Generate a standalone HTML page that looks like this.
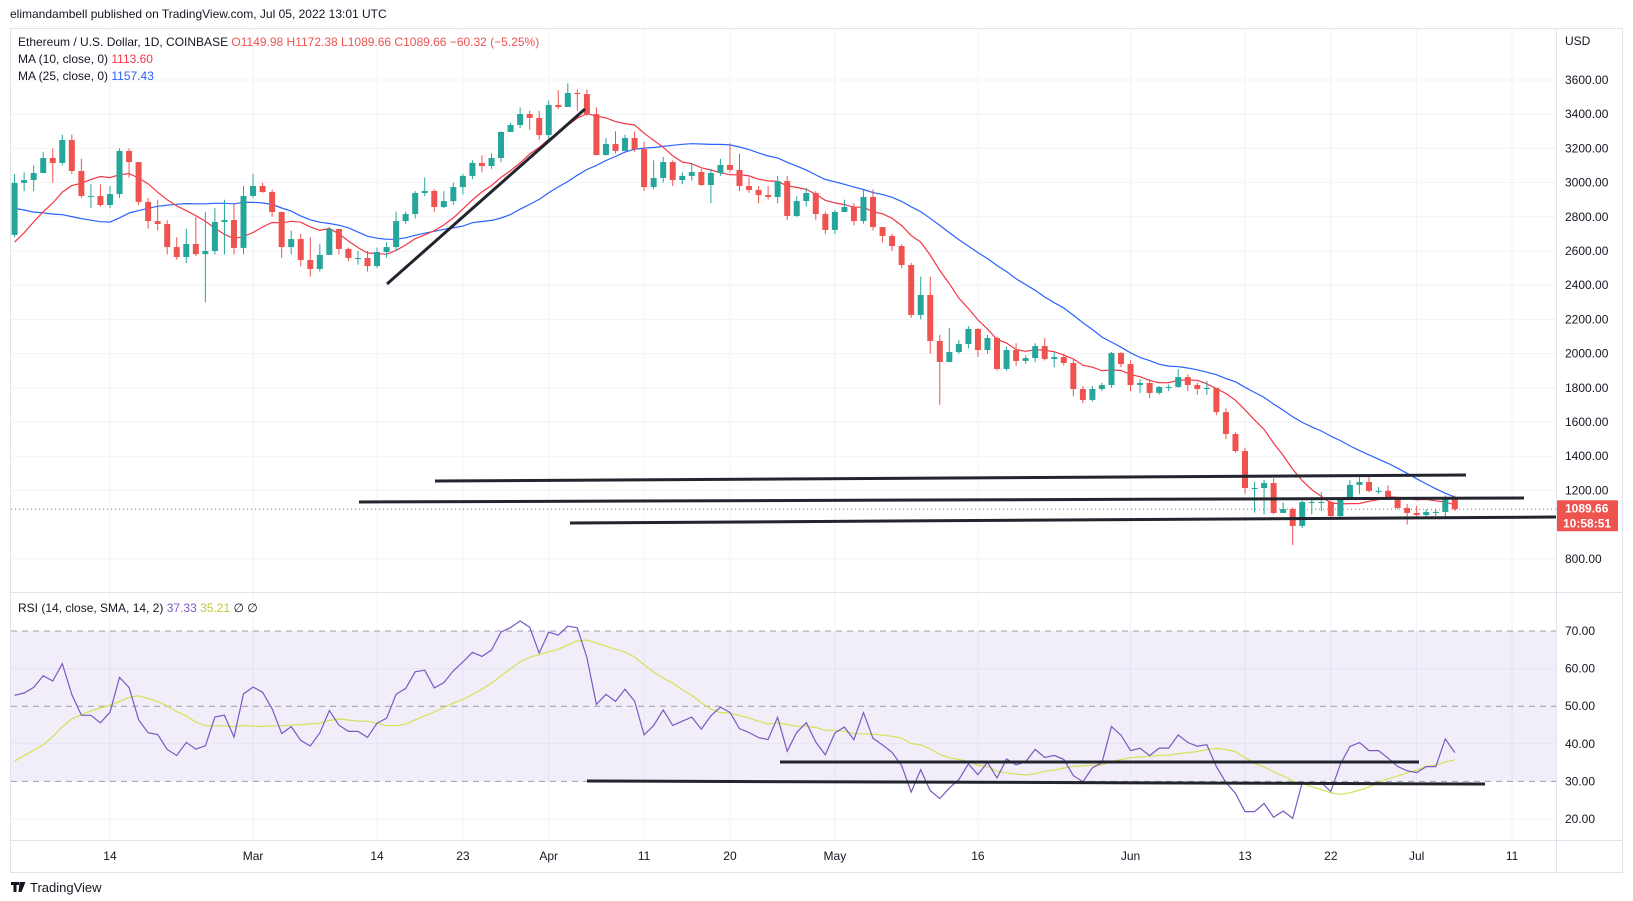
<!DOCTYPE html>
<html><head><meta charset="utf-8">
<style>
body{margin:0;background:#fff;font-family:"Liberation Sans",sans-serif;}
svg{display:block}
text{font-family:"Liberation Sans",sans-serif;}
</style></head>
<body>
<svg id="c" width="1633" height="901" viewBox="0 0 1633 901">
<rect x="0" y="0" width="1633" height="901" fill="#fff"/>
<text x="10" y="18" font-size="12" fill="#131722">elimandambell published on TradingView.com, Jul 05, 2022 13:01 UTC</text>
<rect x="10.5" y="28.5" width="1612" height="844" fill="none" stroke="#e0e3eb"/>
<g id="grid"></g>
<rect x="11" y="631" width="1545" height="150.4" fill="#7e57c2" fill-opacity="0.1"/>
<g id="rsiLevels"></g>
<line x1="10" y1="592.5" x2="1623" y2="592.5" stroke="#e0e3eb"/>
<line x1="10" y1="840.5" x2="1623" y2="840.5" stroke="#e0e3eb"/>
<line x1="1556.5" y1="28" x2="1556.5" y2="872" stroke="#e0e3eb"/>
<g id="ma"></g>
<g id="candles"></g>
<g id="rsi"></g>
<g id="drawings"></g>
<g id="axes"></g>
<text x="18" y="46" font-size="12" fill="#131722">Ethereum / U.S. Dollar, 1D, COINBASE <tspan fill="#ef5350">O1149.98  H1172.38  L1089.66  C1089.66  −60.32 (−5.25%)</tspan></text>
<text x="18" y="63" font-size="12" fill="#131722">MA (10, close, 0) <tspan fill="#f23645">1113.60</tspan></text>
<text x="18" y="80" font-size="12" fill="#131722">MA (25, close, 0) <tspan fill="#2962ff">1157.43</tspan></text>
<text x="18" y="612" font-size="12" fill="#131722">RSI (14, close, SMA, 14, 2) <tspan fill="#7e57c2">37.33</tspan> <tspan fill="#c0ca33">35.21</tspan> ∅ ∅</text>
<text x="1565" y="45" font-size="12" fill="#131722">USD</text>
<g>
<path d="M11 882h8v3h-2.5v7h-3v-7H11z M19.5 882h6l-4 10h-3z" fill="#131722"/>
<text x="30" y="892" font-size="13" fill="#131722">TradingView</text>
</g>
</svg>
<script>
const prior=[3240,3370,3245,3310,3330,3350,3210,3160,3090,2990,2560,2410,2540,2440,2460,2470,2420,2550,2600,2610,2690,2790,2690,2700];
const closes=[2998,3015,3056,3144,3115,3249,3068,2922,2922,2869,2933,3185,3120,2887,2775,2758,2623,2565,2641,2582,2600,2770,2781,2618,2922,2980,2945,2828,2623,2670,2547,2495,2577,2729,2612,2559,2559,2512,2594,2623,2775,2816,2939,2951,2857,2892,2974,3039,3115,3097,3144,3296,3337,3401,3378,3278,3454,3442,3524,3518,3401,3161,3226,3185,3261,3196,2974,3027,3120,3015,3039,3062,2986,3056,3103,3074,2980,2957,2927,2916,3009,2805,2892,2939,2816,2723,2828,2857,2775,2916,2740,2688,2629,2518,2226,2343,2074,1951,2009,2056,2144,2021,2091,1910,2021,1957,1974,2044,1969,1980,1945,1793,1729,1793,1816,2003,1939,1816,1828,1770,1805,1805,1863,1816,1793,1799,1658,1530,1430,1214,1214,1243,1068,1091,992,1132,1132,1132,1050,1156,1232,1249,1197,1197,1150,1097,1068,1056,1074,1074,1156,1090];
const highs=[3050,3060,3100,3180,3200,3280,3280,3140,2990,2990,2980,3200,3200,3120,2910,2900,2780,2680,2730,2800,2830,2850,2900,2880,2980,3050,3000,2960,2830,2720,2700,2680,2640,2740,2720,2620,2600,2600,2620,2650,2830,2830,2950,3030,2960,2950,3000,3050,3130,3160,3170,3300,3350,3440,3420,3420,3480,3540,3580,3545,3545,3440,3260,3300,3280,3300,3240,3130,3150,3130,3060,3110,3080,3080,3140,3230,3170,3030,2980,2980,3040,3040,2920,2970,2950,2830,2840,2900,2880,2960,2960,2740,2700,2640,2530,2450,2450,2110,2150,2080,2160,2150,2110,2100,2040,2060,1990,2060,2090,2010,2000,1970,1810,1810,1830,2010,2010,1960,1850,1850,1810,1820,1910,1880,1830,1840,1800,1680,1540,1450,1250,1260,1270,1130,1100,1140,1160,1190,1140,1160,1260,1280,1280,1220,1230,1160,1120,1110,1090,1090,1170,1170];
const lows=[2680,2950,2950,3090,3000,3100,3050,2910,2850,2860,2850,2910,3030,2870,2730,2720,2580,2550,2530,2570,2300,2580,2580,2580,2580,2910,2940,2800,2560,2580,2510,2450,2480,2600,2580,2540,2520,2480,2500,2560,2600,2760,2790,2920,2830,2850,2870,2930,3020,3060,3080,3120,3310,3320,3310,3250,3240,3430,3470,3420,3390,3160,3160,3170,3190,3180,2950,2960,3000,2980,2990,3010,2980,2880,3040,3060,2950,2940,2880,2900,2880,2780,2800,2860,2780,2700,2700,2830,2750,2760,2720,2650,2600,2500,2210,2200,2000,1700,1950,2000,2030,1980,2000,1900,1900,1930,1940,1950,1960,1920,1930,1750,1710,1720,1780,1800,1920,1780,1770,1740,1760,1780,1800,1780,1760,1760,1640,1500,1420,1180,1070,1060,1060,1070,880,980,1060,1080,1040,1040,1150,1180,1190,1180,1150,1090,1000,1040,1040,1050,1040,1080];
const firstOpen=2694;
const priceTicks=[3600,3400,3200,3000,2800,2600,2400,2200,2000,1800,1600,1400,1200,800];
const rsiTicks=[70,60,50,40,30,20];
const dateTickIdx=[10,25,38,47,56,66,75,86,101,117,129,138,147,157];
const dateTickLabels=["14","Mar","14","23","Apr","11","20","May","16","Jun","13","22","Jul","11"];
const lastPrice=1089.66;

const NS="http://www.w3.org/2000/svg";
const X=i=>14.6+9.538*i;
const Y=p=>80+(3600-p)*0.171;
const RY=r=>631+(70-r)*3.76;
function mk(tag,attrs,parent){const e=document.createElementNS(NS,tag);for(const k in attrs)e.setAttribute(k,attrs[k]);parent.appendChild(e);return e;}
const G=id=>document.getElementById(id);

const grid=G('grid');
dateTickIdx.forEach((d,k)=>{
  const l=mk('line',{x1:X(d),y1:29,x2:X(d),y2:840,stroke:'#f0f3fa'},grid);
  
  
});
priceTicks.forEach(p=>{
  const l=mk('line',{x1:11,y1:Y(p),x2:1556,y2:Y(p),stroke:'#f0f3fa'},grid);
  
  
});
[60,40,20].forEach(r=>{
  const l=mk('line',{x1:11,y1:RY(r),x2:1556,y2:RY(r),stroke:'#f0f3fa'},grid);
  
  
});
const rl=G('rsiLevels');
[70,50,30].forEach(r=>{
  const l=mk('line',{x1:11,y1:RY(r),x2:1556,y2:RY(r),stroke:'#787b86','stroke-dasharray':'6 5','stroke-opacity':0.7},rl);
  
  
});

const ax=G('axes');
priceTicks.forEach(p=>{
  const t=mk('text',{x:1565,y:Y(p)+4,'font-size':12,fill:'#131722'},ax);
  t.textContent=p.toFixed(2);
  
  
});
rsiTicks.forEach(r=>{
  const t=mk('text',{x:1565,y:RY(r)+4,'font-size':12,fill:'#131722'},ax);
  t.textContent=r.toFixed(2);
  
  
});
dateTickIdx.forEach((d,k)=>{
  const t=mk('text',{x:X(d),y:860,'font-size':12,fill:'#131722','text-anchor':'middle'},ax);
  t.textContent=dateTickLabels[k];
  
  
});
const lp=mk('line',{x1:11,y1:Y(lastPrice),x2:1556,y2:Y(lastPrice),stroke:'#ef5350','stroke-dasharray':'1 3'},ax);


const lb=mk('rect',{x:1557,y:Y(lastPrice)-9,width:61,height:31,fill:'#ef5350',rx:1},ax);


const t1=mk('text',{x:1565,y:Y(lastPrice)+3,'font-size':12,'font-weight':'bold',fill:'#fff'},ax);
t1.textContent=lastPrice.toFixed(2);


const t2=mk('text',{x:1563,y:Y(lastPrice)+18,'font-size':12,'font-weight':'bold',fill:'#fff'},ax);
t2.textContent='10:58:51';



const cg=G('candles');
closes.forEach((c,i)=>{
  const o=i===0?firstOpen:closes[i-1];
  const up=c>=o;const col=up?'#26a69a':'#ef5350';
  const x=X(i);
  const w=mk('line',{x1:x,y1:Y(highs[i]),x2:x,y2:Y(lows[i]),stroke:col,'stroke-width':1},cg);
  
  
  const top=Y(Math.max(o,c)),bot=Y(Math.min(o,c));
  const b=mk('rect',{x:x-3,y:top,width:6,height:Math.max(1,bot-top),fill:col},cg);
  
  
});

const all=prior.concat(closes);const off=prior.length;
function sma(n){const out=[];for(let i=0;i<closes.length;i++){const j=i+off;if(j-n+1<0){out.push(null);continue;}let s=0;for(let k=j-n+1;k<=j;k++)s+=all[k];out.push(s/n);}return out;}
function path(vals,fy){let d='';vals.forEach((v,i)=>{if(v==null)return;d+=(d?'L':'M')+X(i).toFixed(1)+' '+fy(v).toFixed(1);});return d;}
const mg=G('ma');
const m25=mk('path',{d:path(sma(25),Y),fill:'none',stroke:'#2962ff','stroke-width':1.2},mg);


const m10=mk('path',{d:path(sma(10),Y),fill:'none',stroke:'#f23645','stroke-width':1.2},mg);



let ag=0,al=0;const rsiAll=[];
for(let j=1;j<all.length;j++){const ch=all[j]-all[j-1];const g=Math.max(ch,0),l=Math.max(-ch,0);
  if(j<=14){ag+=g/14;al+=l/14;if(j===14)rsiAll[j]=100-100/(1+ag/al);}
  else{ag=(ag*13+g)/14;al=(al*13+l)/14;rsiAll[j]=100-100/(1+ag/(al||1e-9));}}
const rsiVals=closes.map((c,i)=>rsiAll[i+off]);
const rsiSma=rsiVals.map((v,i)=>{const j=i+off;let s=0,n=0;for(let k=j-13;k<=j;k++){if(rsiAll[k]!=null){s+=rsiAll[k];n++;}}return n?s/n:null;});
const rg=G('rsi');
const rs=mk('path',{d:path(rsiSma,RY),fill:'none',stroke:'#d4e157','stroke-width':1.2},rg);


const rp=mk('path',{d:path(rsiVals,RY),fill:'none',stroke:'#7e57c2','stroke-width':1.2},rg);



const dg=G('drawings');
const lines=[[387,284,585,109,'trendline'],[435,481,1466,475,'resistance-line'],[359,502,1524,498,'mid-support-line'],[570,523,1556,517,'support-line'],[780,762,1419,762,'rsi-upper-line'],[587,781,1485,784,'rsi-lower-line']];
lines.forEach(l=>{
  const e=mk('line',{x1:l[0],y1:l[1],x2:l[2],y2:l[3],stroke:'#22252e','stroke-width':3},dg);
  
  
});
</script>
</body></html>
